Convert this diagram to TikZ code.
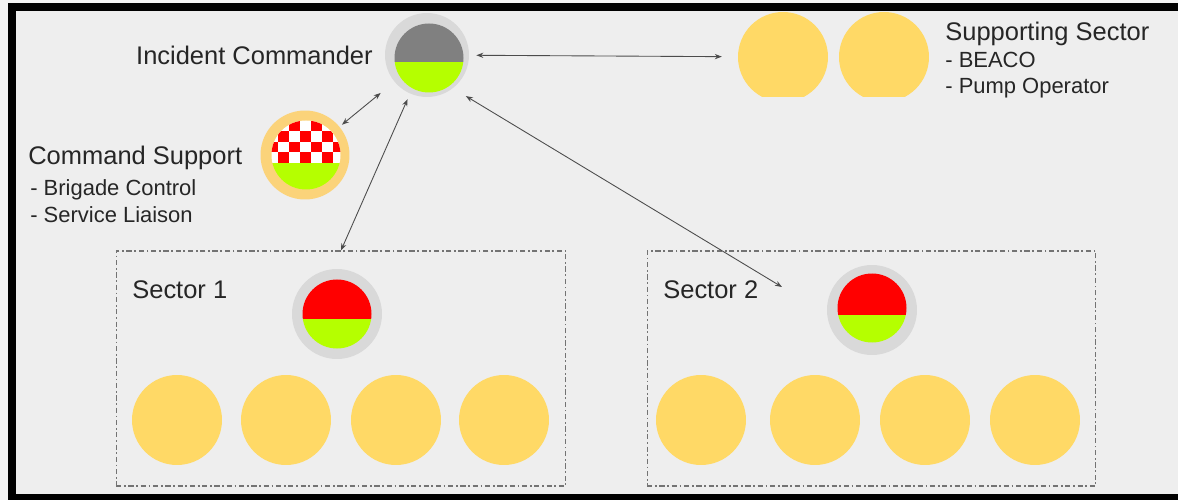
\documentclass[tikz,border=0pt]{standalone}
\usepackage{fontspec}
\setmainfont{Liberation Sans}
\usetikzlibrary{arrows.meta}
\usetikzlibrary{calc}

\definecolor{ringgray}{HTML}{D9D9D9}
\definecolor{sunny}{HTML}{FFD966}
\definecolor{csring}{HTML}{FBD37A}
\definecolor{limegreen}{HTML}{B5FF00}
\definecolor{capgray}{HTML}{808080}
\definecolor{panel}{HTML}{EEEEEE}
\definecolor{margin}{HTML}{F3F3F3}

% split disc: x, y, split y, top colour
\newcommand{\splitdisc}[4]{
	\begin{scope}
		\clip (#1,#2) circle [radius=34.5];
		\fill[#4] (#1-40,#2-40) rectangle (#1+40,#3);
		\fill[limegreen] (#1-40,#3) rectangle (#1+40,#2+40);
	\end{scope}
}

\begin{document}
\begin{tikzpicture}[x=0.02cm,y=-0.02cm,
	ring/.style={circle,fill=ringgray,inner sep=0,minimum size=1.8cm},
	coin/.style={circle,fill=sunny,inner sep=0,minimum size=1.8cm},
	link/.style={draw=black!70,line width=0.5pt,{Stealth[length=4pt,width=3pt]}-{Stealth[length=4pt,width=3pt]}},
	sectorbox/.style={draw=black!55,line width=0.6pt,dash pattern=on 3pt off 1.5pt on 1pt off 1.5pt,inner sep=0,minimum height=4.7cm},
	bigtext/.style={anchor=base west,inner sep=0,text=black!85,font=\fontsize{14.5}{17}\selectfont},
	smalltext/.style={bigtext,font=\fontsize{12.5}{15}\selectfont}]
	\useasboundingbox (0,0) rectangle (1178,500);
	\fill[margin] (0,0) rectangle (1178,500);
	\fill[black] (8,3) rectangle (1178,500);
	\fill[panel] (16,11) rectangle (1178,494);

	% incident commander
	\node[ring,minimum size=1.68cm] (ic) at (427,55) {};
	\splitdisc{429}{58}{62}{capgray}
	\node[bigtext,anchor=base east] (ictext) at (373,65) {Incident Commander};

	% supporting sector
	\begin{scope}
		\clip (700,0) rectangle (960,97);
		\node[coin] (sup1) at (783,57) {};
		\node[coin] (sup2) at (884,57) {};
	\end{scope}
	\node[bigtext] (suptext) at (945,41) {Supporting Sector};
	\node[smalltext] (supa) at (945,68) {- BEACO};
	\node[smalltext] (supb) at (945,94) {- Pump Operator};

	% command support
	\node[coin,fill=csring,minimum size=1.78cm] (cs) at (305,155) {};
	\begin{scope}
		\clip (306,155) circle [radius=34.5];
		\fill[white] (260,110) rectangle (350,162.7);
		\foreach \i in {0,...,7}
			\foreach \j in {0,...,3} {
				\pgfmathtruncatemacro\k{mod(\i+\j,2)}
				\ifnum\k=0 \fill[red] (267.3+11*\i,120.7+10.5*\j) rectangle ++(11,10.5); \fi
			};
		\fill[limegreen] (260,162.7) rectangle (350,200);
	\end{scope}
	\node[bigtext] (cstext) at (28,165) {Command Support};
	\node[smalltext] (csa) at (30,195) {- Brigade Control};
	\node[smalltext] (csb) at (30,223) {- Service Liaison};

	% sectors
	\node[sectorbox,minimum width=9cm] (s1box) at (341,368.5) {};
	\node[sectorbox,minimum width=8.98cm] (s2box) at (871.5,368.5) {};
	\node[bigtext] (s1text) at (132,298) {Sector 1};
	\node[bigtext] (s2text) at (663,298) {Sector 2};
	\node[ring] (lead1) at (337,314) {};
	\splitdisc{337}{314}{319}{red}
	\node[ring] (lead2) at (872,310) {};
	\splitdisc{872}{308}{315}{red}
	\foreach \x [count=\n] in {177,286,396,504}
		\node[coin] (crewa\n) at (\x,420) {};
	\foreach \x [count=\n] in {701,815,925,1035}
		\node[coin] (crewb\n) at (\x,420) {};

	% links
	\coordinate (s2tip) at (782,287);
	\draw[link,shorten <=4pt,shorten >=9pt] (ic) -- (sup1);
	\draw[link,shorten <=10pt,shorten >=1.7pt] (ic) -- (cs);
	\draw[link,shorten >=3.4pt] (s1box.north) -- (ic);
	\draw[link,shorten <=8.5pt] (ic.-52) -- (s2tip);
\end{tikzpicture}
\end{document}
